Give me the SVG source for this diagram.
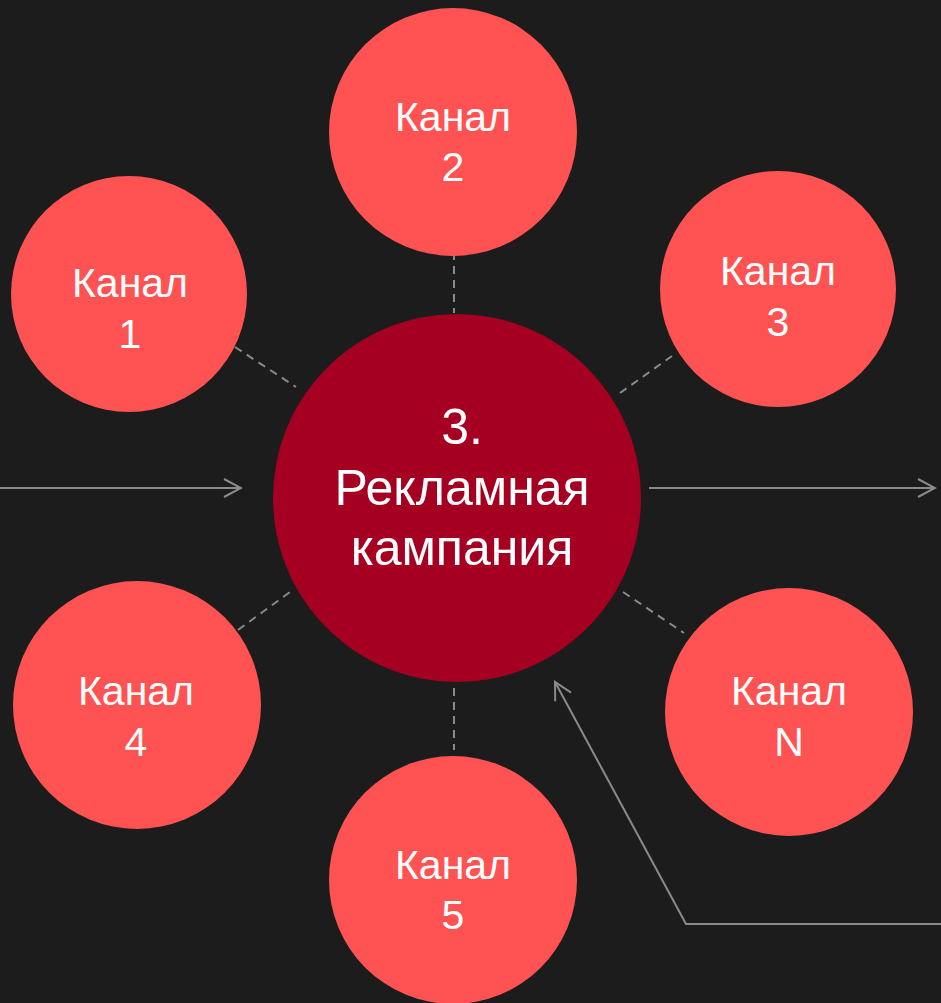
<svg xmlns="http://www.w3.org/2000/svg" width="941" height="1003" viewBox="0 0 941 1003">
<style>
.bg{fill:#1c1c1c}
.ch{fill:#ff5252}
.core{fill:#a50021}
.t{font-family:"Liberation Sans",Arial,sans-serif;fill:#ffffff;text-anchor:middle}
.ct{font-size:41px}
.mt{font-size:50px}
.dash{stroke:#8a8a8a;stroke-width:2;stroke-dasharray:8 6;fill:none}
.arr{stroke:#8a8a8a;stroke-width:2;fill:none}
</style>
<defs>
<marker id="ah" viewBox="0 0 20 20" refX="18" refY="10" markerWidth="20" markerHeight="20" markerUnits="userSpaceOnUse" orient="auto">
<path d="M1 1 L18 10 L1 19" fill="none" stroke="#8a8a8a" stroke-width="2"/>
</marker>
</defs>
<rect class="bg" x="0" y="0" width="941" height="1003"/>
<g id="connectors">
<line class="dash" x1="235" y1="347" x2="296" y2="387"/>
<line class="dash" x1="620" y1="393" x2="672" y2="356"/>
<line class="dash" x1="238" y1="630" x2="290" y2="592"/>
<line class="dash" x1="623" y1="592" x2="684" y2="633"/>
<line class="dash" x1="454" y1="252" x2="454" y2="313"/>
<line class="dash" x1="454" y1="688" x2="454" y2="750"/>
<line class="arr" x1="0" y1="488" x2="241" y2="488" marker-end="url(#ah)"/>
<line class="arr" x1="649" y1="488" x2="935" y2="488" marker-end="url(#ah)"/>
<polyline class="arr" points="941,924 686,924 555,682" marker-end="url(#ah)"/>
</g>
<g id="center">
<circle class="core" cx="457" cy="498" r="184"/>
<text class="t mt" x="462" y="444">3.</text>
<text class="t mt" x="462" y="505">Рекламная</text>
<text class="t mt" x="462" y="565">кампания</text>
</g>
<g id="ch1">
<circle class="ch" cx="129" cy="294" r="118"/>
<text class="t ct" x="130" y="297">Канал</text>
<text class="t ct" x="130" y="348">1</text>
</g>
<g id="ch2">
<circle class="ch" cx="453" cy="132" r="124"/>
<text class="t ct" x="453" y="131">Канал</text>
<text class="t ct" x="453" y="181">2</text>
</g>
<g id="ch3">
<circle class="ch" cx="778" cy="289" r="118"/>
<text class="t ct" x="778" y="285">Канал</text>
<text class="t ct" x="778" y="336">3</text>
</g>
<g id="ch4">
<circle class="ch" cx="137" cy="705" r="124"/>
<text class="t ct" x="136" y="705">Канал</text>
<text class="t ct" x="136" y="756">4</text>
</g>
<g id="chN">
<circle class="ch" cx="789" cy="712" r="124"/>
<text class="t ct" x="789" y="705">Канал</text>
<text class="t ct" x="789" y="756">N</text>
</g>
<g id="ch5">
<circle class="ch" cx="453" cy="880" r="124"/>
<text class="t ct" x="453" y="879">Канал</text>
<text class="t ct" x="453" y="929">5</text>
</g>
</svg>
